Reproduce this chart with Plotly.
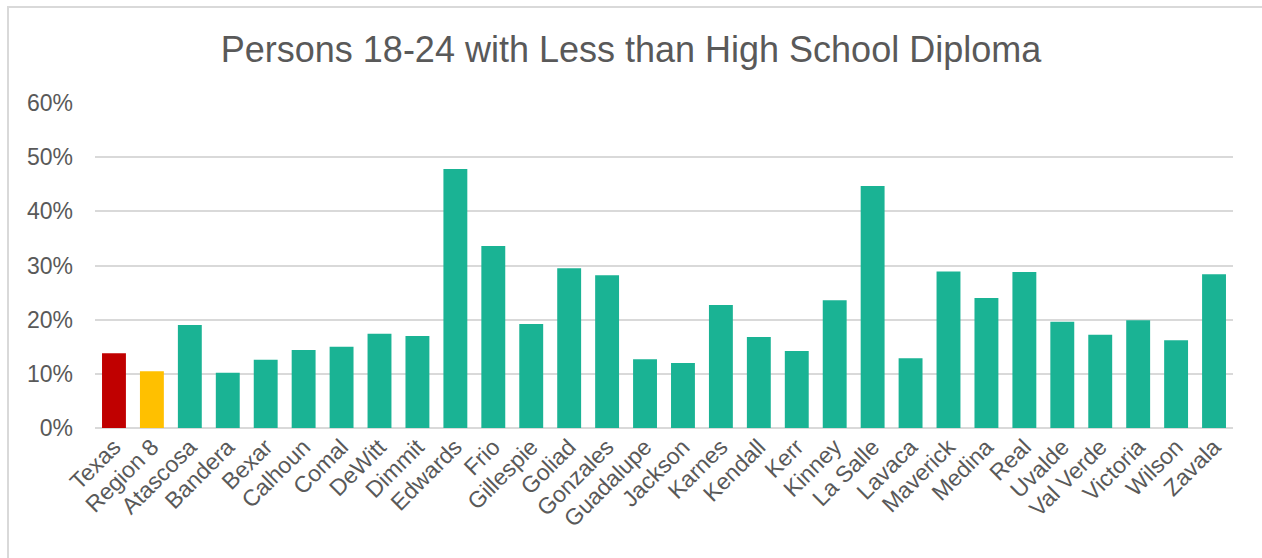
import plotly.graph_objects as go

counties = ["Texas", "Region 8", "Atascosa", "Bandera", "Bexar", "Calhoun", "Comal",
            "DeWitt", "Dimmit", "Edwards", "Frio", "Gillespie", "Goliad", "Gonzales",
            "Guadalupe", "Jackson", "Karnes", "Kendall", "Kerr", "Kinney", "La Salle",
            "Lavaca", "Maverick", "Medina", "Real", "Uvalde", "Val Verde", "Victoria",
            "Wilson", "Zavala"]
share = [0.138, 0.105, 0.190, 0.102, 0.126, 0.144, 0.150, 0.174, 0.170, 0.478,
         0.336, 0.192, 0.295, 0.282, 0.127, 0.120, 0.227, 0.168, 0.142, 0.236,
         0.447, 0.129, 0.289, 0.240, 0.288, 0.196, 0.172, 0.199, 0.162, 0.284]

colors = ["#C00000", "#FFC000"] + ["#1AB394"] * (len(counties) - 2)

fig = go.Figure(go.Bar(x=counties, y=share, marker=dict(color=colors, line=dict(width=0)),
                       hoverinfo="x+y"))

W, H = 1262, 558
ml, mr, mt, mb = 95, 29, 103, 130
pw, ph = W - ml - mr, H - mt - mb

def px_x(x):
    return (x - ml) / pw

def px_y(y):
    return (H - mb - y) / ph

fig.update_layout(
    width=W, height=H,
    margin=dict(l=ml, r=mr, t=mt, b=mb),
    paper_bgcolor="white", plot_bgcolor="white",
    bargap=0.37,
    font=dict(family="Liberation Sans, Arial, sans-serif", color="#595959"),
    title=dict(text="Persons 18-24 with Less than High School Diploma",
               x=0.5, xref="container", xanchor="center",
               y=1 - 49 / H, yref="container", yanchor="middle",
               font=dict(size=36, color="#595959")),
    xaxis=dict(tickangle=-45, tickfont=dict(size=23, color="#595959"),
               showgrid=False, showline=False, ticks=""),
    yaxis=dict(range=[0, 0.6], dtick=0.1, tickformat=".0%",
               tickfont=dict(size=23, color="#595959"),
               ticklabelstandoff=21,
               showgrid=True, gridcolor="#D9D9D9", gridwidth=1.5,
               zeroline=True, zerolinecolor="#D9D9D9", zerolinewidth=2,
               ticks="", ticklen=0, showline=False),
    shapes=[dict(type="rect", xref="paper", yref="paper",
                 x0=px_x(8), x1=px_x(W + 20), y0=px_y(H + 20), y1=px_y(7),
                 line=dict(color="#D9D9D9", width=2), fillcolor="rgba(0,0,0,0)",
                 layer="below")],
    showlegend=False,
)

fig.write_html("out.html")
